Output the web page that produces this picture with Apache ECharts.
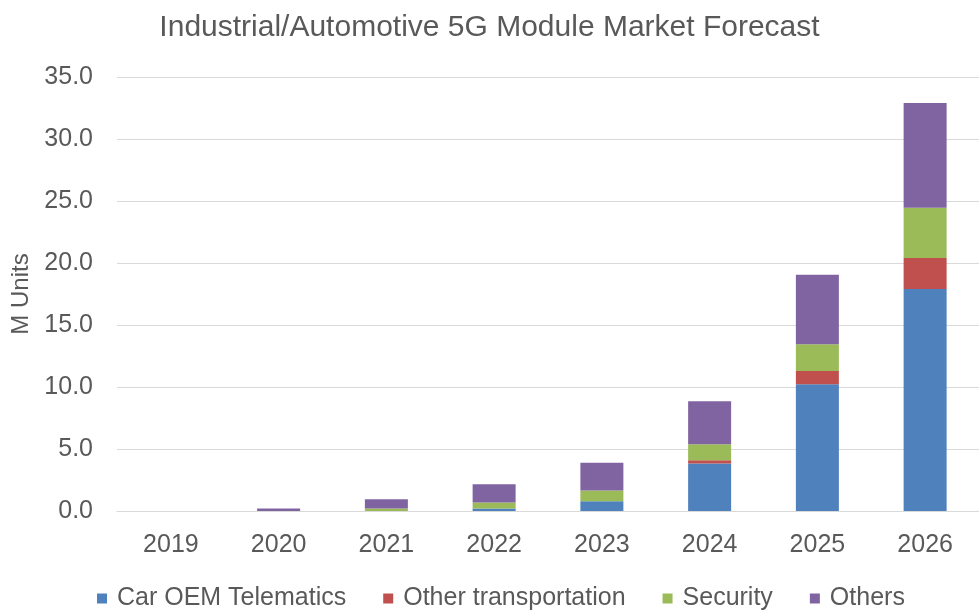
<!DOCTYPE html>
<html>
<head>
<meta charset="utf-8">
<script src="https://cdn.jsdelivr.net/npm/echarts@6/dist/echarts.min.js"></script>
<style>
  html, body { margin: 0; padding: 0; background: #fff; }
  #main { width: 979px; height: 610px; }
</style>
</head>
<body>
<div id="main"></div>
<script>
var years = ["2019", "2020", "2021", "2022", "2023", "2024", "2025", "2026"];
var carOem = [0, 0, 0, 0.2, 0.78, 3.83, 10.22, 17.9];
var otherTransport = [0, 0, 0, 0, 0, 0.27, 1.07, 2.5];
var security = [0, 0, 0.2, 0.48, 0.87, 1.29, 2.16, 4.06];
var others = [0, 0.2, 0.75, 1.47, 2.25, 3.46, 5.6, 8.44];

var FONT = "'Liberation Sans', sans-serif";
var TEXT = "#595959";

var chart = echarts.init(document.getElementById("main"));

function bar(name, data, color) {
  return {
    name: name,
    type: "bar",
    stack: "total",
    barWidth: 43,
    data: data,
    itemStyle: { color: color }
  };
}

var option = {
  animation: false,
  backgroundColor: "#fff",
  title: {
    text: "Industrial/Automotive 5G Module Market Forecast",
    left: "center",
    top: 8,
    padding: [5, 5, 5, 21],
    textStyle: { fontFamily: FONT, fontSize: 30, fontWeight: "normal", color: TEXT }
  },
  legend: {
    top: 581,
    left: 92,
    itemWidth: 10,
    itemHeight: 10,
    itemGap: 37,
    icon: "rect",
    textStyle: { fontFamily: FONT, fontSize: 25, color: TEXT, padding: [0, 0, 0, 5] }
  },
  grid: { left: 117, right: -13, top: 77, bottom: 99 },
  xAxis: {
    type: "category",
    data: years,
    axisLine: { lineStyle: { color: "#d9d9d9" } },
    axisTick: { show: false },
    axisLabel: { fontFamily: FONT, fontSize: 25, color: TEXT, margin: 22 }
  },
  yAxis: {
    type: "value",
    min: 0,
    max: 35,
    interval: 5,
    name: "M Units",
    nameLocation: "middle",
    nameGap: 83,
    nameTextStyle: { fontFamily: FONT, fontSize: 24, color: TEXT },
    axisLine: { show: false },
    axisTick: { show: false },
    splitLine: { lineStyle: { color: "#d9d9d9" } },
    axisLabel: {
      fontFamily: FONT, fontSize: 25, color: TEXT, margin: 24,
      formatter: function (v) { return v.toFixed(1); }
    }
  },
  series: [
    bar("Car OEM Telematics", carOem, "#4F81BD"),
    bar("Other transportation", otherTransport, "#C0504D"),
    bar("Security", security, "#9BBB59"),
    bar("Others", others, "#8064A2")
  ]
};

chart.setOption(option);
</script>
</body>
</html>
